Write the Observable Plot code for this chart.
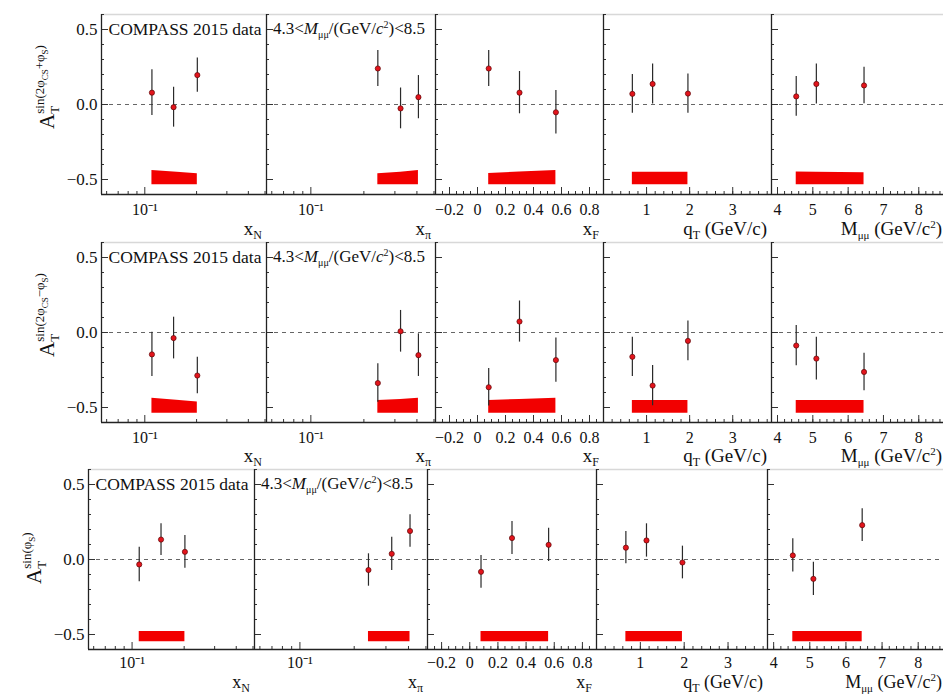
<!DOCTYPE html>
<html><head><meta charset="utf-8">
<script src="https://cdn.jsdelivr.net/npm/d3@7"></script>
<script src="https://cdn.jsdelivr.net/npm/@observablehq/plot@0.6"></script>
<style>
body{margin:0;background:#fff;}
#fig{position:relative;width:943px;height:695px;overflow:hidden;background:#fff;}
#fig svg{position:absolute;}
</style></head><body><div id="fig"></div>
<script>
// ---------------- data ----------------
const xN  = [0.110, 0.147, 0.202];
const xPi = [0.240, 0.323, 0.408];
const xF  = [0.08, 0.30, 0.56];
const qT  = [0.67, 1.14, 1.96];
const Mmm = [4.53, 5.10, 6.45];

// A_T^{sin(2phiCS+phiS)} : columns xN, xPi, xF, qT, M
const valPlus = [[0.079,-0.018,0.196],[0.240,-0.026,0.049],[0.240,0.079,-0.052],[0.071,0.137,0.073],[0.054,0.137,0.127]];
const errPlus = [[0.152,0.133,0.114],[0.120,0.136,0.144],[0.120,0.141,0.145],[0.129,0.133,0.131],[0.133,0.133,0.122]];
const sysPlus = [[0.095,0.085,0.073],[0.073,0.083,0.095],[0.075,0.085,0.095],[0.084,0.084,0.084],[0.085,0.083,0.080]];

// A_T^{sin(2phiCS-phiS)}
const valMinus = [[-0.146,-0.037,-0.287],[-0.337,0.008,-0.151],[-0.365,0.073,-0.184],[-0.162,-0.354,-0.056],[-0.087,-0.174,-0.263]];
const errMinus = [[0.148,0.139,0.122],[0.128,0.139,0.142],[0.125,0.137,0.148],[0.131,0.134,0.132],[0.134,0.143,0.125]];
const sysMinus = [[0.100,0.088,0.074],[0.085,0.092,0.100],[0.085,0.092,0.100],[0.085,0.085,0.085],[0.085,0.085,0.085]];

// A_T^{sin(phiS)}
const valSiv = [[-0.033,0.133,0.051],[-0.070,0.038,0.190],[-0.082,0.143,0.098],[0.079,0.127,-0.020],[0.027,-0.129,0.229]];
const errSiv = [[0.115,0.106,0.109],[0.108,0.111,0.108],[0.109,0.110,0.111],[0.108,0.111,0.109],[0.111,0.111,0.109]];
const sysSiv = [[0.068,0.068,0.068],[0.068,0.068,0.068],[0.068,0.068,0.068],[0.068,0.068,0.068],[0.068,0.068,0.068]];

const yTickLabels = [-0.5, 0, 0.5];
const xTickLabels = [[0.1],[0.1],[-0.2,0,0.2,0.4,0.6,0.8],[1,2,3],[4,5,6,7,8]];
const xMinorTicks = [
  [0.06,0.07,0.08,0.09,0.2,0.3,0.4,0.5],
  [0.06,0.07,0.08,0.09,0.2,0.3,0.4,0.5],
  d3.range(-0.3, 0.9001, 0.05),
  d3.range(0.2, 3.9, 0.2),
  d3.range(4.0, 8.7, 0.2)
];
const yMinorTicks = d3.range(-0.6, 0.6001, 0.1);

// ---------------- layout ----------------
const FONT = '"Liberation Serif","Times New Roman",serif';
const H = 180;
const rowTops = [14, 242, 469];
const colLefts = [[101,266,435,603,771],[101,266,435,603,771],[88,254,427,596,767]];
const figRight = 943;
const xDomains = [[0.056,0.51],[0.056,0.51],[-0.3,0.9],[0,3.9],[3.83,8.7]];
const xTypes = ["log","log","linear","linear","linear"];
const xs = [xN, xPi, xF, qT, Mmm];
const rows = [
  {val: valPlus, err: errPlus, sys: sysPlus, base: -0.535, pad: 9, lab: 41},
  {val: valMinus, err: errMinus, sys: sysMinus, base: -0.538, pad: 9, lab: 40},
  {val: valSiv, err: errSiv, sys: sysSiv, base: -0.548, pad: 7, lab: 39}
];
const yLabels = [
  [{t:"A"},{t:"T",off:5,fs:13},{t:"sin(2φ",off:-10,fs:13,dx:-7},{t:"CS",off:-6,fs:9},{t:"+φ",off:-10,fs:13},{t:"S",off:-6,fs:9},{t:")",off:-10,fs:13}],
  [{t:"A"},{t:"T",off:5,fs:13},{t:"sin(2φ",off:-10,fs:13,dx:-7},{t:"CS",off:-6,fs:9},{t:"−φ",off:-10,fs:13},{t:"S",off:-6,fs:9},{t:")",off:-10,fs:13}],
  [{t:"A"},{t:"T",off:5,fs:13},{t:"sin(φ",off:-10,fs:13,dx:-7},{t:"S",off:-6,fs:9},{t:")",off:-10,fs:13}]
];
const xLabels = [
  [{t:"x"},{t:"N",off:4,fs:12}],
  [{t:"x"},{t:"π",off:4,fs:12}],
  [{t:"x"},{t:"F",off:4,fs:12}],
  [{t:"q"},{t:"T",off:4,fs:12},{t:" (GeV/c)",off:0}],
  [{t:"M"},{t:"μμ",off:4,fs:11},{t:" (GeV/c",off:0},{t:"2",off:-7,fs:11},{t:")",off:0}]
];
const massRange = [{t:"4.3<"},{t:"M",it:true},{t:"μμ",off:4,fs:10},{t:"/(GeV/",off:0},{t:"c",it:true},{t:"2",off:-6,fs:10},{t:")<8.5",off:0}];
const dataLabel = "COMPASS 2015 data";

function rich(parent, x, y, parts, {anchor = "start", rotate = 0, size = 17} = {}) {
  const t = parent.append("text")
    .attr("transform", `translate(${x},${y}) rotate(${rotate})`)
    .attr("text-anchor", anchor).attr("font-family", FONT)
    .attr("font-size", size).attr("fill", "#111");
  let cur = 0;
  for (const p of parts) {
    const off = p.off || 0;
    const ts = t.append("tspan").text(p.t).attr("dy", off - cur);
    if (p.dx) ts.attr("dx", p.dx);
    if (p.fs) ts.attr("font-size", p.fs);
    if (p.it) ts.attr("font-style", "italic");
    cur = off;
  }
  return t;
}

const fig = document.getElementById("fig");
const mT = 14, mB = 46, mR = 10;

rows.forEach((row, r) => {
  for (let c = 0; c < 5; c++) {
    const left = colLefts[r][c];
    const right = c < 4 ? colLefts[r][c + 1] : figRight;
    const W = right - left;
    const mL = c === 0 ? 88 : 12;
    const data = xs[c].map((x, i) => ({x, y: row.val[c][i], e: row.err[c][i], s: row.sys[c][i]}));
    const base = row.base;
    const dom = xDomains[c];
    const marks = [
      Plot.ruleY([0.6], {stroke: "#d8d8d8", strokeWidth: 1.5}),
      Plot.ruleY([0], {stroke: "#666", strokeDasharray: "4,4"}),
      Plot.areaY(data, {x: "x", y1: () => base, y2: d => base + d.s, fill: "#f20000"}),
      Plot.ruleX(data, {x: "x", y1: d => d.y - d.e, y2: d => d.y + d.e, stroke: "#2a2a2a", strokeWidth: 1.2}),
      Plot.dot(data, {x: "x", y: "y", r: 2.6, fill: "#e3141c", stroke: "#5a0808", strokeWidth: 0.7}),
      Plot.tickY(yMinorTicks, {y: d => d, stroke: "#333", insetRight: W - 3}),
      Plot.tickY(yTickLabels, {y: d => d, stroke: "#333", insetRight: W - 7}),
      Plot.tickX(xMinorTicks[c], {x: d => d, stroke: "#333", insetTop: H - 3}),
      Plot.tickX(xTickLabels[c], {x: d => d, stroke: "#333", insetTop: H - 7}),
      Plot.ruleX([dom[0]], {stroke: "#222", strokeWidth: 1.3}),
      Plot.ruleY([-0.6], {stroke: "#222", strokeWidth: 1.3}),
      Plot.axisX({ticks: xTickLabels[c], tickSize: 0, tickPadding: row.pad, fontSize: 16,
        tickFormat: xTypes[c] === "log" ? () => "10⁻¹" : d => d3.format("~g")(d).replace("-", "−"), label: null})
    ];
    if (c === 0) {
      marks.push(Plot.axisY({ticks: yTickLabels, tickSize: 0, tickPadding: 4, fontSize: 17, label: null}));
      marks.push(Plot.text([dataLabel], {text: d => d, frameAnchor: "top-left", dx: 7, dy: 15,
        textAnchor: "start", lineAnchor: "middle", fontSize: 17.5, fill: "#111"}));
    }
    const svg = Plot.plot({
      width: W + mL + mR, height: H + mT + mB,
      marginLeft: mL, marginRight: mR, marginTop: mT, marginBottom: mB,
      x: {type: xTypes[c], domain: dom},
      y: c === 0 ? {domain: [-0.6, 0.6]} : {domain: [-0.6, 0.6], axis: null},
      style: {background: "transparent", fontFamily: FONT, color: "#111", overflow: "visible"},
      marks
    });
    svg.style.left = (left - mL) + "px";
    svg.style.top = (rowTops[r] - mT) + "px";
    const sel = d3.select(svg);
    const y0 = svg.scale("y").apply(0);
    const yHalf = svg.scale("y").apply(0.5);
    // x axis title
    rich(sel, mL + W - (c === 4 ? 1 : 4), mT + H + row.lab, xLabels[c], {anchor: "end", size: r === 2 ? 18 : 19});
    if (c === 0) {
      rich(sel, mL - 47, y0 + 25, yLabels[r], {rotate: -90, size: 21});
    }
    if (c === 1) {
      rich(sel, mL + 7, yHalf + 5, massRange, {size: 17});
    }
    fig.appendChild(svg);
  }
});
</script>
</body></html>
